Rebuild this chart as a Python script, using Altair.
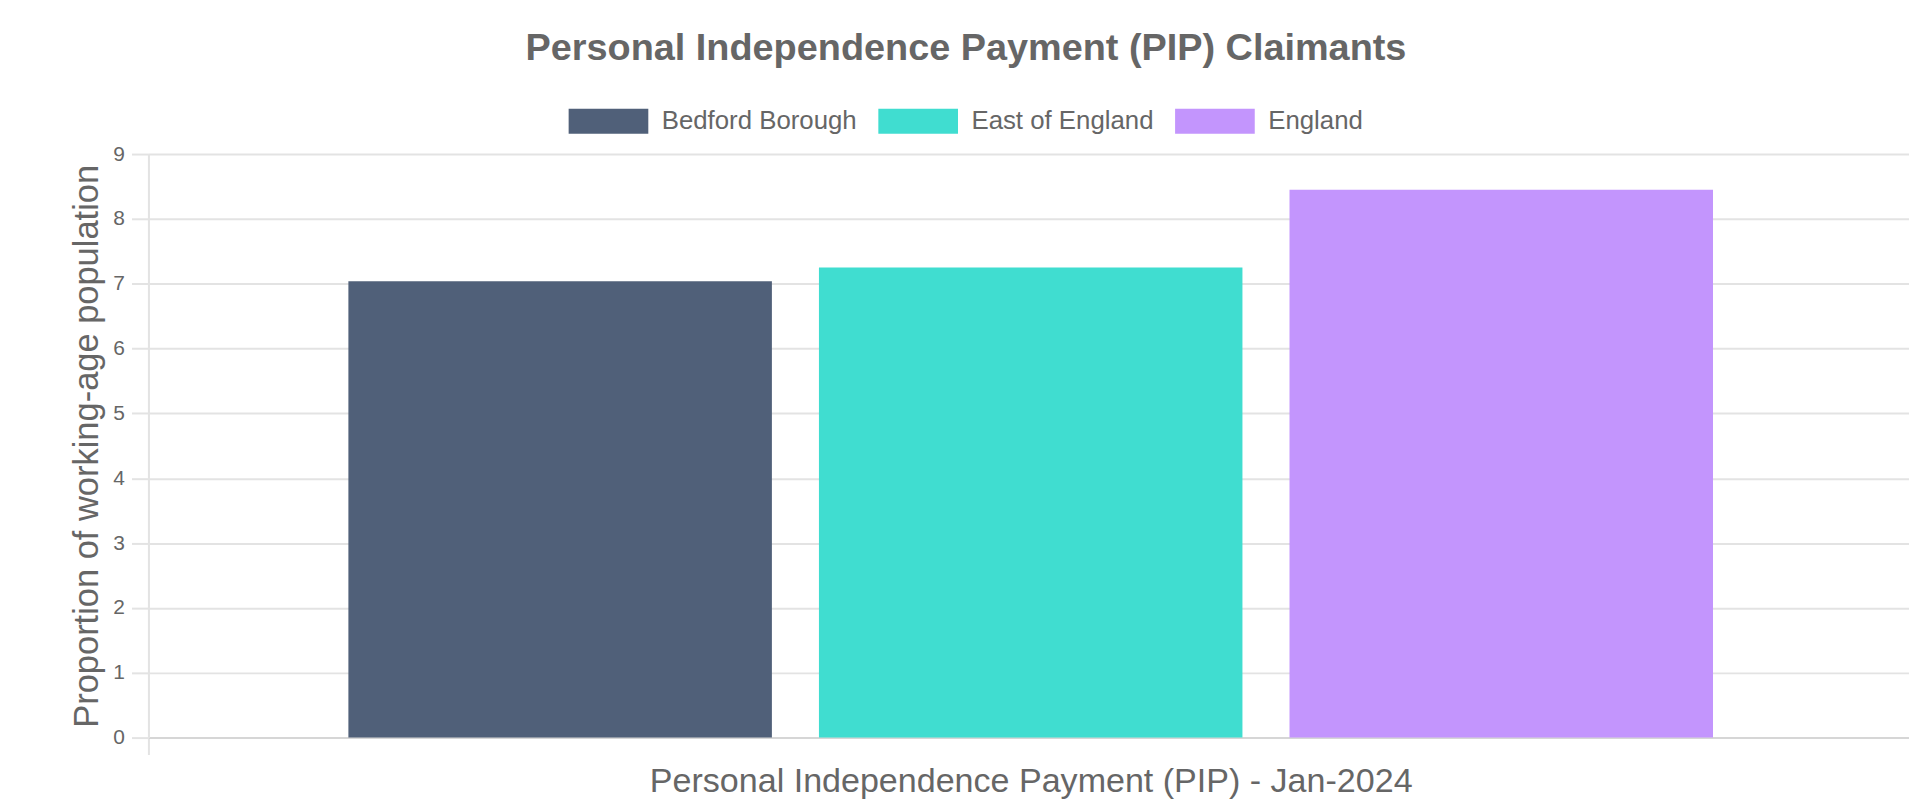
import altair as alt
import pandas as pd

# ---- data ----
period = ["Personal Independence Payment (PIP) - Jan-2024"]
series = ["Bedford Borough", "East of England", "England"]
values = [7.04, 7.25, 8.45]
colors = ["#506079", "#40ddd0", "#c395fd"]
y_ticks = [0, 1, 2, 3, 4, 5, 6, 7, 8, 9]

df = pd.DataFrame({
    "period": [period[0]] * len(series),
    "series": series,
    "value": values,
})

FONT = "Liberation Sans"
TXT = "#666666"
GRID = "#e3e3e3"

W, H = 1768, 586        # visible plot area
CAT_W = 1772            # full category band (runs slightly past the window edge)

bars = alt.Chart(df).mark_bar(strokeWidth=0).encode(
    x=alt.X(
        "period:N",
        sort=period,
        scale=alt.Scale(paddingInner=0, paddingOuter=0, range=[0, CAT_W]),
        axis=alt.Axis(
            title=None,
            labelAngle=0,
            labelFont=FONT,
            labelFontSize=34.2,
            labelColor=TXT,
            labelPadding=10,
            labelLimit=2000,
            ticks=True,
            tickBand="extent",
            tickSize=17,
            tickColor=GRID,
            tickWidth=2,
            grid=False,
            domain=True,
            domainColor="#d6d6d6",
            domainWidth=2,
        ),
    ),
    xOffset=alt.XOffset(
        "series:N",
        sort=series,
        scale=alt.Scale(paddingInner=0.1, paddingOuter=0.425),
    ),
    y=alt.Y(
        "value:Q",
        scale=alt.Scale(domain=[0, 9], nice=False),
        axis=alt.Axis(
            title="Proportion of working-age population",
            values=y_ticks,
            format="d",
            titleFont=FONT,
            titleFontSize=34.6,
            titleFontWeight="normal",
            titleColor=TXT,
            titleAngle=270,
            titleAlign="center",
            titleBaseline="alphabetic",
            titleX=-51,
            titleY=H / 2,
            labelFont=FONT,
            labelFontSize=21,
            labelColor=TXT,
            labelPadding=7,
            tickSize=17,
            tickColor=GRID,
            tickWidth=2,
            gridColor=GRID,
            gridWidth=2,
            domain=True,
            domainColor=GRID,
            domainWidth=2,
        ),
    ),
    color=alt.Color(
        "series:N",
        sort=series,
        scale=alt.Scale(domain=series, range=colors),
        legend=alt.Legend(
            title=None,
            orient="none",
            direction="horizontal",
            legendX=422,
            legendY=-73,
            symbolType="M-1,-0.3125H1V0.3125H-1Z",
            symbolSize=6400,
            symbolStrokeWidth=0,
            symbolOpacity=1,
            labelFont=FONT,
            labelFontSize=25.9,
            labelColor=TXT,
            labelOffset=13.5,
            labelLimit=1000,
            columnPadding=21,
        ),
    ),
)

chart = bars.properties(
    width=W,
    height=H,
    autosize=alt.AutoSizeParams(type="none"),
    padding={"left": 141, "top": 145, "right": 0, "bottom": 64},
    title=alt.TitleParams(
        text="Personal Independence Payment (PIP) Claimants",
        font=FONT,
        fontSize=38.0,
        fontWeight="bold",
        color=TXT,
        anchor="middle",
        frame="group",
        baseline="alphabetic",
        dx=-63,
        dy=17,
        offset=0,
    ),
).configure_view(stroke=None).configure(background="white")

chart.save("out.html", embed_options={"renderer": "svg", "actions": False})
